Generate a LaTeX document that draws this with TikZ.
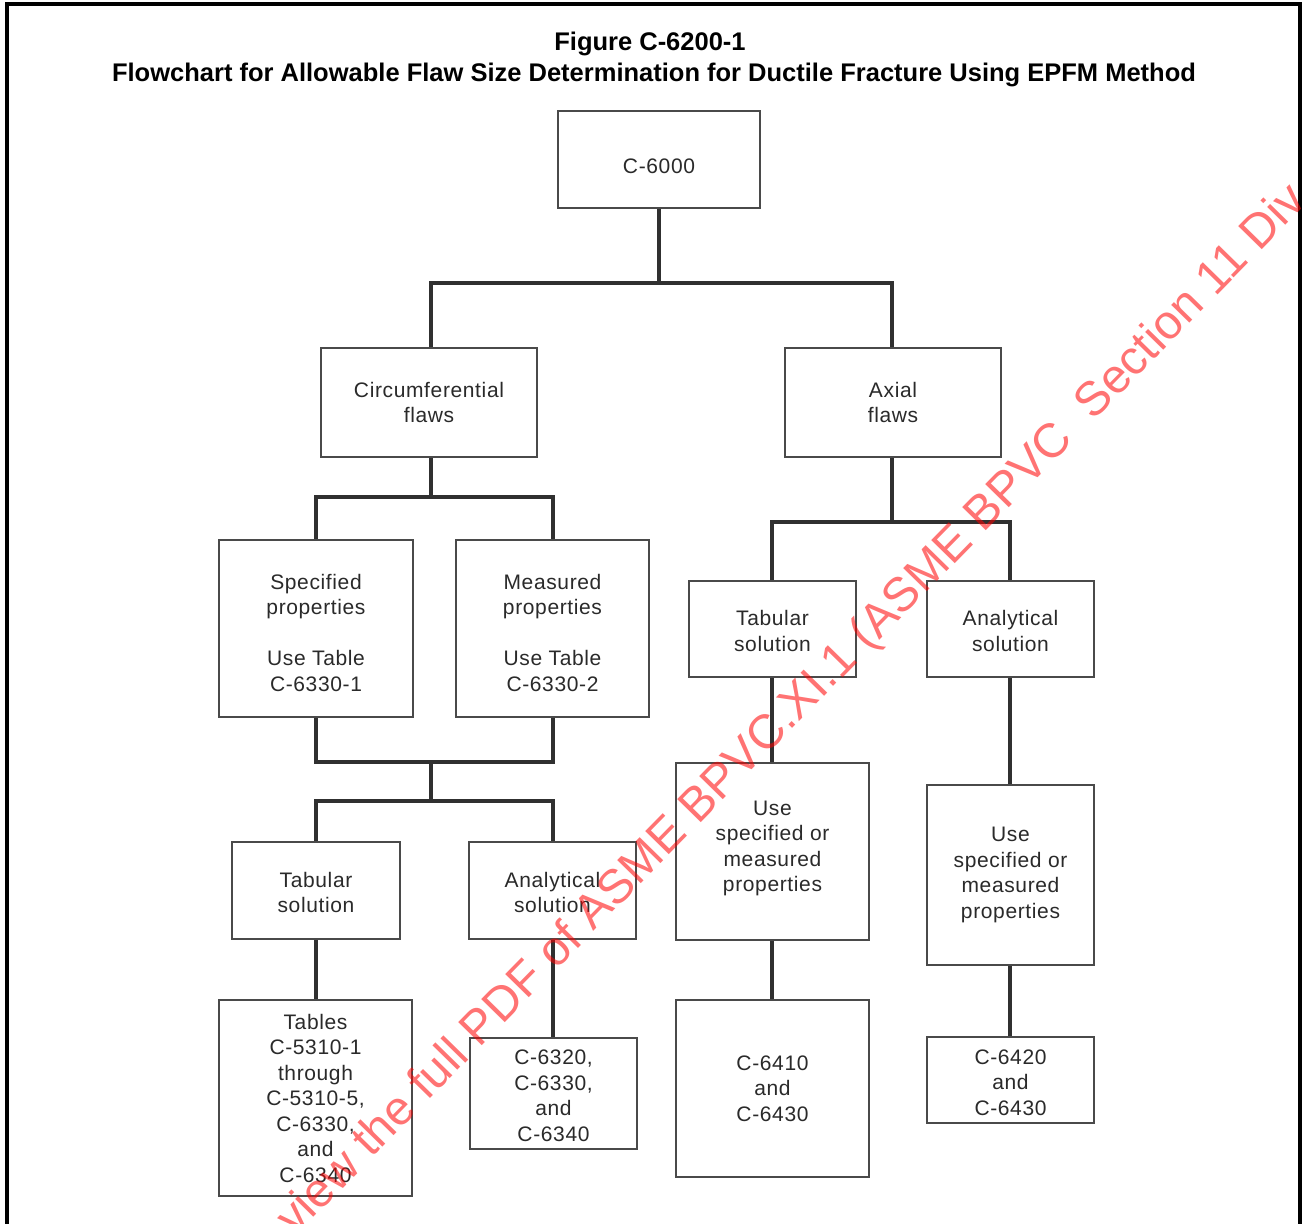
\documentclass[tikz,border=0pt]{standalone}
\usepackage{fontspec}
\setmainfont{Liberation Sans}
\newfontfamily\boxfont[LetterSpace=3]{Liberation Sans}
\newfontfamily\markfont{Liberation Sans}
% a taller first line pushes a text block down inside its box
\newcommand{\tallfirst}[1]{\rule{0pt}{#1}}
\begin{document}
\definecolor{ink}{HTML}{2A2A2A}
\definecolor{rule}{HTML}{303030}
\definecolor{edge}{HTML}{4A4A4A}
\begin{tikzpicture}[x=1pt,y=-1pt,
  box/.style={draw=edge,line width=1.3pt,fill=white,inner sep=0pt,align=center,
    text=ink,font=\boxfont\fontsize{21}{25.5}\selectfont},
  % a deeper last line lifts a text block inside its box
  tup/.style={execute at end node={\rule[-#1]{0pt}{#1}}},
  conn/.style={draw=rule,line width=4pt,line join=miter},
  ttl/.style={inner sep=0pt,text=black,font=\bfseries\fontsize{25.5}{30}\selectfont},
  wm/.style={inner sep=0pt,text=red,opacity=0.55,font=\markfont\fontsize{48}{58}\selectfont}]
\useasboundingbox (0,0) rectangle (1303,1223);
\clip (0,0) rectangle (1303,1223);
\fill[white] (0,0) rectangle (1303,1223);

% outer frame
\draw[line width=4pt] (7,4) rectangle (1300,1260);

% title
\node[ttl] (t1) at (650,44) {Figure C-6200-1};
\node[ttl] (t2) at (654,75) {Flowchart for Allowable Flaw Size Determination for Ductile Fracture Using EPFM Method};

% junction points of the connector tree
\coordinate (j1) at (659,283);
\coordinate (j2) at (431,497);
\coordinate (j3) at (431,762);
\coordinate (j4) at (431,801);
\coordinate (j5) at (892,522);

% connectors (drawn first, boxes sit on top)
\draw[conn] (659,208) -- (j1);
\draw[conn] (431,348) -- (431,283) -- (892,283) -- (892,348);
\draw[conn] (431,457) -- (j2);
\draw[conn] (316,540) -- (316,497) -- (553,497) -- (553,540);
\draw[conn] (316,717) -- (316,762) -- (553,762) -- (553,717);
\draw[conn] (j3) -- (j4);
\draw[conn] (316,842) -- (316,801) -- (553,801) -- (553,842);
\draw[conn] (316,939) -- (316,1000);
\draw[conn] (553,939) -- (553,1038);
\draw[conn] (892,457) -- (j5);
\draw[conn] (772,581) -- (772,522) -- (1010,522) -- (1010,581);
\draw[conn] (772,677) -- (772,763);
\draw[conn] (1010,677) -- (1010,785);
\draw[conn] (772,940) -- (772,1000);
\draw[conn] (1010,965) -- (1010,1037);

% boxes
\node[box,minimum width=202pt,minimum height=97pt] (c6000) at (659,159.5) {\tallfirst{27.3pt}C-6000};
\node[box,minimum width=216pt,minimum height=109pt] (circ) at (429,402.5) {Circumferential\\flaws};
\node[box,minimum width=216pt,minimum height=109pt] (axial) at (893,402.5) {Axial\\flaws};
\node[box,minimum width=194pt,minimum height=177pt] (spec) at (316,628.5) {\tallfirst{23.3pt}Specified\\properties\\[25.5pt]Use Table\\C-6330-1};
\node[box,minimum width=193pt,minimum height=177pt] (meas) at (552.5,628.5) {\tallfirst{23.3pt}Measured\\properties\\[25.5pt]Use Table\\C-6330-2};
\node[box,minimum width=168pt,minimum height=97pt] (tabL) at (316,890.5) {\tallfirst{19.3pt}Tabular\\solution};
\node[box,minimum width=167pt,minimum height=97pt] (anaL) at (552.5,890.5) {\tallfirst{19.3pt}Analytical\\solution};
\node[box,minimum width=193pt,minimum height=196pt] (tables) at (315.5,1098) {Tables\\C-5310-1\\through\\C-5310-5,\\C-6330,\\and\\C-6340};
\node[box,minimum width=167pt,minimum height=111pt] (c6320) at (553.5,1093.5) {\tallfirst{19.3pt}C-6320,\\C-6330,\\and\\C-6340};
\node[box,minimum width=167pt,minimum height=96pt] (tabR) at (772.5,629) {\tallfirst{19.3pt}Tabular\\solution};
\node[box,minimum width=167pt,minimum height=96pt] (anaR) at (1010.5,629) {\tallfirst{19.3pt}Analytical\\solution};
\node[box,tup=10.4pt,minimum width=193pt,minimum height=177pt] (useM) at (772.5,851.5) {Use\\specified or\\measured\\properties};
\node[box,minimum width=167pt,minimum height=180pt] (useR) at (1010.5,875) {Use\\specified or\\measured\\properties};
\node[box,minimum width=193pt,minimum height=177pt] (c6410) at (772.5,1088.5) {C-6410\\and\\C-6430};
\node[box,minimum width=167pt,minimum height=86pt] (c6420) at (1010.5,1080) {\tallfirst{19.3pt}C-6420\\and\\C-6430};

% diagonal stamp across the sheet
\node[wm,rotate=45.6,anchor=base west] (stamp) at (295,1237) {view the full PDF of ASME BPVC.XI.1 (ASME BPVC\ \ Section 11 Div};
\end{tikzpicture}
\end{document}
